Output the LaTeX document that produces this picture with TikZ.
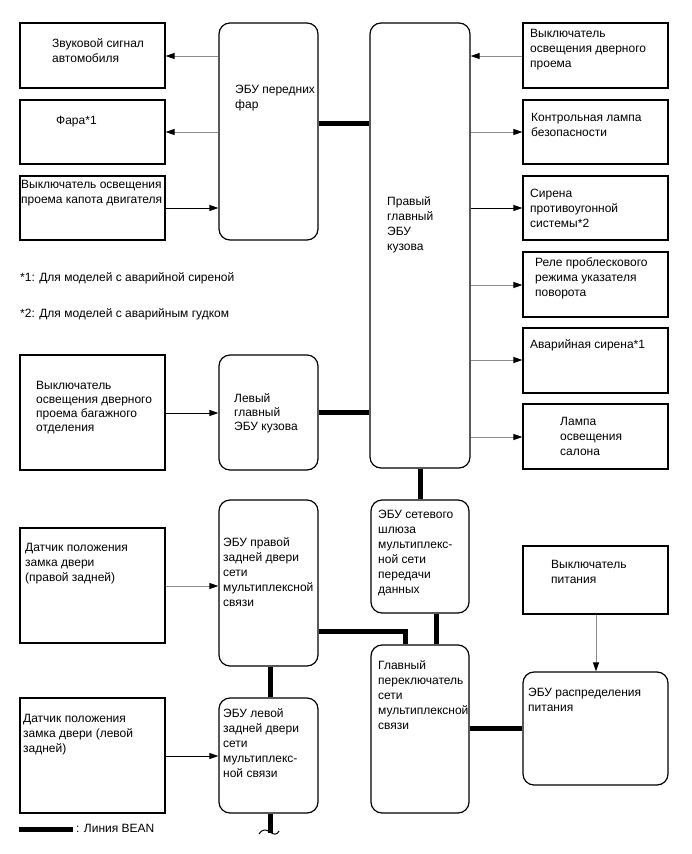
\documentclass[tikz,border=0pt]{standalone}
\usepackage{fontspec}
\setmainfont{Liberation Sans}
\usetikzlibrary{arrows.meta}
\newcommand\tl[1]{\begin{tabular}[t]{@{}l@{}}#1\end{tabular}}
\tikzset{
  plainbox/.style={draw, line width=1.2pt, rectangle, inner sep=0pt},
  ecubox/.style={draw, line width=1.2pt, rectangle, rounded corners=11pt, inner sep=0pt},
  txt/.style={font=\fontsize{12}{15}\selectfont, inner sep=0pt, anchor=base west},
  txtb/.style={font=\fontsize{12}{14}\selectfont, inner sep=0pt, anchor=base west},
  bean/.style={line width=5pt},
  greysig/.style={draw=black!45, line width=0.9pt, -{Triangle[length=9pt,width=6pt,color=black]}},
  blacksig/.style={draw=black, line width=0.9pt, -{Triangle[length=9pt,width=6pt,color=black]}},
}
\newcommand\mkbox[6]{\node[#1, minimum width={(#5)-(#3)}, minimum height={(#6)-(#4)}] (#2) at ({((#3)+(#5))/2},{((#4)+(#6))/2}) {};}
\begin{document}
\begin{tikzpicture}[x=1pt,y=-1pt]
\useasboundingbox (0,0) rectangle (691,854);
% left boxes
\mkbox{plainbox}{box1}{20}{23}{165}{88}
\mkbox{plainbox}{box2}{20}{100}{165}{164}
\mkbox{plainbox}{box3}{20}{176}{165}{240}
\mkbox{plainbox}{box4}{20}{355}{165}{470}
\mkbox{plainbox}{box5}{20}{528}{165}{643}
\mkbox{plainbox}{box6}{20}{698}{165}{813}
% ECUs
\mkbox{ecubox}{ecuF}{219}{23}{318}{240}
\mkbox{ecubox}{ecuL}{219}{355}{318}{470}
\mkbox{ecubox}{ecuR}{219}{500}{318}{666}
\mkbox{ecubox}{ecuLd}{219}{698}{318}{813}
\mkbox{ecubox}{main}{370}{23}{470}{468}
\mkbox{ecubox}{gw}{371}{500}{469}{613}
\mkbox{ecubox}{msw}{371}{645}{469}{813}
\mkbox{ecubox}{pwr}{523}{672}{668}{785}
% right boxes
\mkbox{plainbox}{R1}{523}{23}{668}{88}
\mkbox{plainbox}{R2}{523}{100}{668}{164}
\mkbox{plainbox}{R3}{523}{176}{668}{240}
\mkbox{plainbox}{R4}{523}{252}{668}{317}
\mkbox{plainbox}{R5}{523}{328}{668}{393}
\mkbox{plainbox}{R6}{523}{404}{668}{469}
\mkbox{plainbox}{psw}{523}{546}{668}{614}
% texts
\node[txt] (t1) at (52,47) {\tl{Звуковой сигнал\\автомобиля}};
\node[txt] (t2) at (56,124) {Фара*1};
\node[txt] (t3) at (21,188) {\tl{Выключатель освещения\\проема капота двигателя}};
\node[txt] (tF) at (235,93) {\tl{ЭБУ передних\\фар}};
\node[txt] (tR1) at (530,37) {\tl{Выключатель\\освещения дверного\\проема}};
\node[txt] (tR2) at (531,121) {\tl{Контрольная лампа\\безопасности}};
\node[txt] (tR3) at (530,197) {\tl{Сирена\\противоугонной\\системы*2}};
\node[txt] (tM) at (387,205) {\tl{Правый\\главный\\ЭБУ\\кузова}};
\node[txt] (tR4) at (535,266) {\tl{Реле проблескового\\режима указателя\\поворота}};
\node[txt] (tR5) at (530,348) {Аварийная сирена*1};
\node[txt] (tR6) at (560,425) {\tl{Лампа\\освещения\\салона}};
\node[txt] (fn1) at (20,281) {*1: Для моделей с аварийной сиреной};
\node[txt] (fn2) at (20,317) {*2: Для моделей с аварийным гудком};
\node[txtb] (t4) at (36,389) {\tl{Выключатель\\освещения дверного\\проема багажного\\отделения}};
\node[txtb] (tL) at (234,402) {\tl{Левый\\главный\\ЭБУ кузова}};
\node[txt] (t5) at (25,551) {\tl{Датчик положения\\замка двери\\(правой задней)}};
\node[txt] (tRD) at (223,546) {\tl{ЭБУ правой\\задней двери\\сети\\мультиплексной\\связи}};
\node[txt] (t6) at (23,722) {\tl{Датчик положения\\замка двери (левой\\задней)}};
\node[txt] (tLD) at (223,717) {\tl{ЭБУ левой\\задней двери\\сети\\мультиплекс-\\ной связи}};
\node[txt] (tG) at (378,518) {\tl{ЭБУ сетевого\\шлюза\\мультиплекс-\\ной сети\\передачи\\данных}};
\node[txt] (tPS) at (551,568) {\tl{Выключатель\\питания}};
\node[txt] (tMS) at (378,669) {\tl{Главный\\переключатель\\сети\\мультиплексной\\связи}};
\node[txt] (tPE) at (528,696) {\tl{ЭБУ распределения\\питания}};
% signal arrows
\draw[greysig] (ecuF.west |- 0,56) -- (box1.east |- 0,56);
\draw[greysig] (ecuF.west |- 0,132) -- (box2.east |- 0,132);
\draw[blacksig] (box3.east |- 0,208) -- (ecuF.west |- 0,208);
\draw[greysig] (R1.west |- 0,56) -- (main.east |- 0,56);
\draw[greysig] (main.east |- 0,132) -- (R2.west |- 0,132);
\draw[blacksig] (main.east |- 0,208) -- (R3.west |- 0,208);
\draw[greysig] (main.east |- 0,285) -- (R4.west |- 0,285);
\draw[greysig] (main.east |- 0,360) -- (R5.west |- 0,360);
\draw[greysig] (main.east |- 0,437) -- (R6.west |- 0,437);
\draw[blacksig] (box4.east |- 0,413) -- (ecuL.west |- 0,413);
\draw[greysig] (box5.east |- 0,586) -- (ecuR.west |- 0,586);
\draw[blacksig] (box6.east |- 0,756) -- (ecuLd.west |- 0,756);
\draw[greysig] (psw.south -| 596,0) -- (pwr.north -| 596,0);
% BEAN lines
\draw[bean] (ecuF.east |- 0,123) -- (main.west |- 0,123);
\draw[bean] (ecuL.east |- 0,412) -- (main.west |- 0,412);
\draw[bean] (main.south) -- (gw.north);
\draw[bean] (gw.south -| 436,0) -- (msw.north -| 436,0);
\draw[bean] (ecuR.east |- 0,631) -| (msw.north -| 405,0);
\draw[bean] (ecuR.south -| 270,0) -- (ecuLd.north -| 270,0);
\draw[bean] (msw.east |- 0,728) -- (pwr.west |- 0,728);
\coordinate (brk) at (270,833);
\draw[bean] (ecuLd.south -| 270,0) -- (brk);
\draw[line width=1pt] (259,834) .. controls (262,829) and (266,829) .. (270,832) .. controls (274,835) and (277,835) .. (279,831);
% legend
\coordinate (lg1) at (19,829);
\coordinate (lg2) at (73,829);
\draw[bean] (lg1) -- (lg2);
\node[txt] (lgt) at (76,832) {: Линия BEAN};
\end{tikzpicture}
\end{document}
